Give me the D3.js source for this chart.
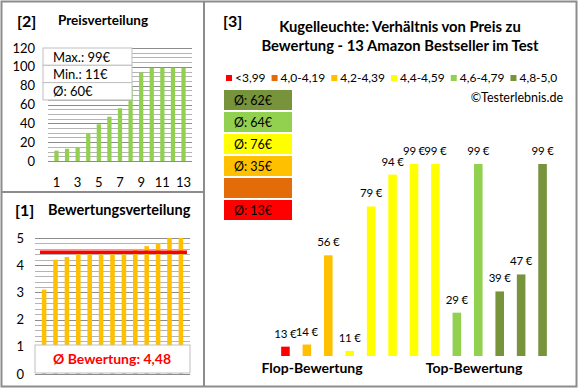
<!DOCTYPE html>
<html>
<head>
<meta charset="utf-8">
<script src="https://cdn.jsdelivr.net/npm/d3@7"></script>
<style>
    body { margin: 0; background: #fff; }
    svg { display: block; font-family: Lato, "Open Sans", sans-serif; }
</style>
</head>
<body>
<div id="chart"></div>
<script>
'use strict';

// data
var positions = [1, 2, 3, 4, 5, 6, 7, 8, 9, 10, 11, 12, 13];
var pricesSorted = [11, 13, 14, 29, 39, 47, 56, 79, 94, 99, 99, 99, 99];
var ratings = [3.1, 4.2, 4.3, 4.4, 4.4, 4.4, 4.4, 4.4, 4.6, 4.7, 4.8, 5.0, 5.0];
var ratingAvg = 4.48;
var priceStats = ['Max.: 99€', 'Min.: 11€', 'Ø: 60€'];
var productPrices = [13, 14, 56, 11, 79, 94, 99, 99, 29, 99, 39, 47, 99];
var groupLabels = ['<3,99', '4,0-4,19', '4,2-4,39', '4,4-4,59', '4,6-4,79', '4,8-5,0'];
var groupBounds = [4.0, 4.2, 4.4, 4.6, 4.8];
var groupAvg = ['Ø: 13€', '', 'Ø: 35€', 'Ø: 76€', 'Ø: 64€', 'Ø: 62€'];
var groupColors = ['#ff0000', '#e36c09', '#ffc000', '#ffff00', '#92d050', '#77933c'];
var priceTicks = [0, 20, 40, 60, 80, 100, 120];
var priceLabelTicks = [1, 3, 5, 7, 9, 11, 13];
var ratingTicks = [0, 1, 2, 3, 4, 5];

var width = 580,
    height = 390;

var svg = d3.select('#chart').append('svg')
    .attr('width', width)
    .attr('height', height);

var colorOf = d3.scaleThreshold().domain(groupBounds).range(groupColors);

// ---------- [2] Preisverteilung ----------
var x2 = d3.scaleBand().domain(positions).range([48, 192]).padding(0.6);
var y2 = d3.scaleLinear().domain([0, 120]).range([161, 48]);

var g2 = svg.append('g');

g2.selectAll('line.grid')
    .data(d3.range(0, 121, 5))
    .enter().append('line')
    .attr('class', 'grid')
    .attr('x1', 48).attr('x2', 192)
    .attr('y1', function(d) { return Math.round(y2(d)) + 0.5; })
    .attr('y2', function(d) { return Math.round(y2(d)) + 0.5; })
    .attr('stroke', function(d) { return d % 20 === 0 ? '#8c8c8c' : '#b4b4b4'; })
    .attr('stroke-width', 1);

g2.selectAll('rect.bar')
    .data(pricesSorted)
    .enter().append('rect')
    .attr('class', 'bar')
    .attr('x', function(d, i) { return x2(positions[i]); })
    .attr('width', x2.bandwidth())
    .attr('y', function(d) { return y2(d); })
    .attr('height', function(d) { return y2(0) - y2(d); })
    .attr('fill', '#92d050');

g2.selectAll('text.ytick')
    .data(priceTicks)
    .enter().append('text')
    .attr('x', 35)
    .attr('y', function(d) { return y2(d) + 4.5; })
    .attr('text-anchor', 'end')
    .attr('font-size', 13)
    .attr('fill', '#000')
    .text(function(d) { return d; });

g2.selectAll('text.xtick')
    .data(priceLabelTicks)
    .enter().append('text')
    .attr('x', function(d) { return x2(d) + x2.bandwidth() / 2; })
    .attr('y', 187)
    .attr('text-anchor', 'middle')
    .attr('font-size', 13)
    .text(function(d) { return d; });

var stats = g2.selectAll('g.stat')
    .data(priceStats)
    .enter().append('g')
    .attr('transform', function(d, i) { return 'translate(43,' + (48 + i * 17.3) + ')'; });
stats.append('rect')
    .attr('width', 89).attr('height', 17.3)
    .attr('fill', '#fff').attr('stroke', '#bfbfbf');
stats.append('text')
    .attr('x', 10).attr('y', 13.5)
    .attr('font-size', 13)
    .text(function(d) { return d; });

g2.append('text').attr('x', 17).attr('y', 27)
    .attr('font-size', 16).attr('font-weight', 'bold').text('[2]');
g2.append('text').attr('x', 58).attr('y', 25)
    .attr('font-size', 13.5).attr('font-weight', 'bold').text('Preisverteilung');

// ---------- [1] Bewertungsverteilung ----------
var x1 = d3.scaleBand().domain(positions).range([35, 190]).padding(0.6);
var y1 = d3.scaleLinear().domain([0, 5]).range([374, 238]);

var g1 = svg.append('g');

g1.selectAll('line.grid')
    .data(d3.range(0, 26))
    .enter().append('line')
    .attr('x1', 35).attr('x2', 190)
    .attr('y1', function(d) { return Math.round(y1(d / 5)) + 0.5; })
    .attr('y2', function(d) { return Math.round(y1(d / 5)) + 0.5; })
    .attr('stroke', function(d) { return d % 5 === 0 ? '#8c8c8c' : '#b4b4b4'; });

g1.selectAll('rect.bar')
    .data(ratings)
    .enter().append('rect')
    .attr('x', function(d, i) { return x1(positions[i]); })
    .attr('width', x1.bandwidth())
    .attr('y', function(d) { return y1(d); })
    .attr('height', function(d) { return y1(0) - y1(d); })
    .attr('fill', '#ffc000');

g1.append('line')
    .attr('x1', 40).attr('x2', 187)
    .attr('y1', y1(ratingAvg)).attr('y2', y1(ratingAvg))
    .attr('stroke', '#ff0000').attr('stroke-width', 3.5);

g1.selectAll('text.ytick')
    .data(ratingTicks)
    .enter().append('text')
    .attr('x', 24)
    .attr('y', function(d) { return y1(d) + 4.5; })
    .attr('text-anchor', 'end')
    .attr('font-size', 13)
    .text(function(d) { return d; });

g1.append('rect')
    .attr('x', 35).attr('y', 345).attr('width', 155).attr('height', 28)
    .attr('fill', '#fff').attr('stroke', '#bfbfbf');
g1.append('text')
    .attr('x', 112).attr('y', 364)
    .attr('text-anchor', 'middle')
    .attr('font-size', 14).attr('font-weight', 'bold').attr('fill', '#ff0000')
    .text('Ø Bewertung: ' + String(ratingAvg).replace('.', ','));

g1.append('text').attr('x', 15).attr('y', 216)
    .attr('font-size', 16).attr('font-weight', 'bold').text('[1]');
g1.append('text').attr('x', 48).attr('y', 215)
    .attr('font-size', 14.5).attr('font-weight', 'bold').text('Bewertungsverteilung');

// ---------- [3] Preis zu Bewertung ----------
var x3 = d3.scaleBand().domain(positions).range([268.3, 559.7]).padding(0.6);
var y3 = d3.scaleLinear().domain([8.6, 99]).range([356, 164]);

var g3 = svg.append('g');

g3.append('text').attr('x', 223).attr('y', 27)
    .attr('font-size', 16).attr('font-weight', 'bold').text('[3]');
g3.append('text').attr('x', 400).attr('y', 32)
    .attr('text-anchor', 'middle').attr('font-size', 14.8).attr('font-weight', 'bold')
    .text('Kugelleuchte: Verhältnis von Preis zu');
g3.append('text').attr('x', 400).attr('y', 51)
    .attr('text-anchor', 'middle').attr('font-size', 14.8).attr('font-weight', 'bold')
    .text('Bewertung - 13 Amazon Bestseller im Test');

// legend row
var lx = 226;
groupLabels.forEach(function(label, i) {
    g3.append('rect')
        .attr('x', lx).attr('y', 75).attr('width', 6).attr('height', 6)
        .attr('fill', groupColors[i]);
    var t = g3.append('text')
        .attr('x', lx + 9).attr('y', 82)
        .attr('font-size', 12)
        .text(label);
    lx += 9 + t.node().getComputedTextLength() + 6;
});

g3.append('text').attr('x', 563).attr('y', 102)
    .attr('text-anchor', 'end').attr('font-size', 12.5)
    .text('©Testerlebnis.de');

// average boxes, best group on top
var avgRows = g3.selectAll('g.avg')
    .data(d3.range(groupColors.length).reverse())
    .enter().append('g')
    .attr('transform', function(d, i) { return 'translate(224,' + (90 + i * 22) + ')'; });
avgRows.append('rect')
    .attr('width', 68).attr('height', 20)
    .attr('fill', function(d) { return groupColors[d]; });
avgRows.append('text')
    .attr('x', 10).attr('y', 14.5)
    .attr('font-size', 12.5)
    .text(function(d) { return groupAvg[d]; });

g3.selectAll('rect.bar')
    .data(productPrices)
    .enter().append('rect')
    .attr('x', function(d, i) { return x3(positions[i]); })
    .attr('width', x3.bandwidth())
    .attr('y', function(d) { return y3(d); })
    .attr('height', function(d) { return y3(8.6) - y3(d); })
    .attr('fill', function(d, i) { return colorOf(ratings[i]); });

g3.selectAll('text.val')
    .data(productPrices)
    .enter().append('text')
    .attr('x', function(d, i) { return x3(positions[i]) + x3.bandwidth() / 2; })
    .attr('y', function(d) { return y3(d) - 9; })
    .attr('text-anchor', 'middle')
    .attr('font-size', 11.5)
    .attr('letter-spacing', -0.2)
    .text(function(d) { return d + ' €'; });

g3.append('text').attr('x', 312).attr('y', 373)
    .attr('text-anchor', 'middle').attr('font-size', 14).attr('font-weight', 'bold')
    .text('Flop-Bewertung');
g3.append('text').attr('x', 474).attr('y', 373)
    .attr('text-anchor', 'middle').attr('font-size', 14).attr('font-weight', 'bold')
    .text('Top-Bewertung');

// frame
svg.append('rect')
    .attr('x', 1.5).attr('y', 1.5).attr('width', 575).attr('height', 385)
    .attr('fill', 'none').attr('stroke', '#8c8c8c').attr('stroke-width', 2);
svg.append('line')
    .attr('x1', 204).attr('x2', 204).attr('y1', 1).attr('y2', 387)
    .attr('stroke', '#8c8c8c').attr('stroke-width', 2);
svg.append('line')
    .attr('x1', 1).attr('x2', 204).attr('y1', 192).attr('y2', 192)
    .attr('stroke', '#8c8c8c').attr('stroke-width', 2);
</script>
</body>
</html>
